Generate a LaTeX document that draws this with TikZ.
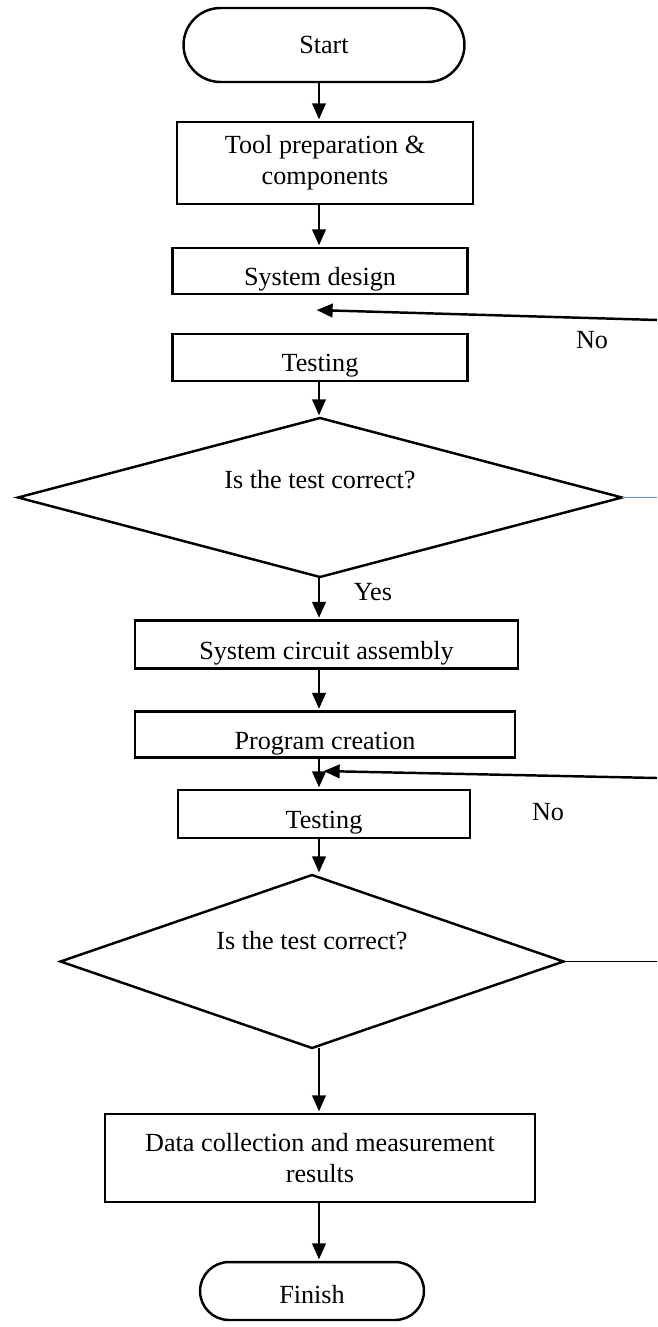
\documentclass[tikz,border=0pt]{standalone}
\usepackage{fontspec}
\setmainfont{Liberation Serif}
\usetikzlibrary{arrows.meta,shapes.geometric,shapes.misc}
\definecolor{wordblue}{RGB}{91,155,213}

\begin{document}
\begin{tikzpicture}[x=0.02cm, y=-0.02cm, line width=1.4pt,
  every node/.style={font=\fontsize{14.9}{17.6}\selectfont, inner sep=2pt, outer sep=0pt},
  box/.style={draw, rectangle, align=center},
  lowtext/.style={text height=0.58cm, text depth=0pt},
  term/.style={draw, rounded rectangle},
  decide/.style={draw, diamond, text height=0.36cm},
  arr/.style={-{Triangle[length=0.32cm, width=0.27cm]}, shorten >=1.5pt}]
  \useasboundingbox (0,0) rectangle (657,1327);
  \coordinate (col) at (319,0);

  \node[term, minimum width=5.76cm, minimum height=1.48cm] (start) at (324,45) {Start};
  \node[box, minimum width=5.92cm, minimum height=1.64cm] (tool) at (325,163) {Tool preparation \&\\components};
  \node[box, lowtext, minimum width=5.9cm, minimum height=0.92cm] (design) at (320,271) {System design};
  \node[box, lowtext, minimum width=5.9cm, minimum height=0.94cm] (test1) at (320,357.5) {Testing};
  \node[decide, text depth=0.72cm, aspect=3.8, minimum width=12.08cm, minimum height=3.18cm] (check1) at (320,497.5) {Is the test correct?};
  \node[box, lowtext, minimum width=7.66cm, minimum height=0.96cm] (circuit) at (326.5,644.5) {System circuit assembly};
  \node[box, lowtext, minimum width=7.6cm, minimum height=0.92cm] (program) at (325,734.5) {Program creation};
  \node[box, lowtext, minimum width=5.84cm, minimum height=0.96cm] (test2) at (324,814) {Testing};
  \node[decide, text depth=0.86cm, aspect=2.9, minimum width=10.06cm, minimum height=3.46cm] (check2) at (312,961.5) {Is the test correct?};
  \node[box, minimum width=8.6cm, minimum height=1.76cm] (data) at (320,1158) {Data collection and measurement\\results};
  \node[term, text height=0.5cm, text depth=0pt, minimum width=4.62cm, minimum height=1.16cm] (finish) at (312,1291) {Finish};

  \node (no1) at (592,340) {No};
  \node (yes) at (373,592) {Yes};
  \node (no2) at (548,812) {No};

  % main flow
  \foreach \a/\b in {start/tool, tool/design, test1/check1, check1/circuit,
                     circuit/program, program/test2, test2/check2, check2/data, data/finish}
    \draw[arr] (\a.south -| col) -- (\b.north -| col);

  % loops back from the right
  \coordinate (edge1) at (657,320);
  \coordinate (back1) at (314,310);
  \coordinate (edge2) at (657,778);
  \coordinate (back2) at (321,771);
  \draw[arr] (edge1) -- (back1);
  \draw[arr] (edge2) -- (back2);
  \draw[wordblue, line width=0.7pt] (check1.east) -- (check1.east -| edge1);
  \draw[line width=0.7pt] (check2.east) -- (check2.east -| edge1);
\end{tikzpicture}
\end{document}
